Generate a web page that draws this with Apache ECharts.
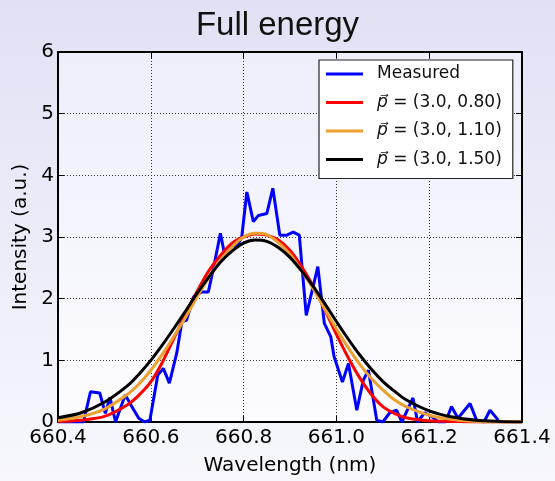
<!DOCTYPE html>
<html>
<head>
<meta charset="utf-8">
<script src="https://cdn.jsdelivr.net/npm/echarts@6/dist/echarts.min.js"></script>
<style>html,body{margin:0;padding:0;}#c{width:555px;height:481px;}</style>
</head>
<body>
<div id="c"></div>
<script>
// Fit curves sampled on a common wavelength grid (nm)
const fitX = [660.40,660.45,660.50,660.55,660.575,660.60,660.625,660.65,660.675,660.70,660.725,660.75,660.775,660.80,660.825,660.85,660.875,660.90,660.925,660.95,660.975,661.00,661.025,661.05,661.075,661.10,661.125,661.15,661.20,661.25,661.30,661.35,661.40];
const fitRed    = [0.01,0.03,0.09,0.28,0.44,0.65,0.97,1.36,1.75,2.12,2.45,2.70,2.90,3.00,3.05,3.03,2.95,2.78,2.52,2.20,1.82,1.42,1.05,0.72,0.45,0.25,0.14,0.07,0.02,0.01,0.00,0.00,0.00];
const fitOrange = [0.03,0.09,0.21,0.45,0.62,0.84,1.10,1.39,1.70,2.03,2.34,2.62,2.84,3.00,3.06,3.04,2.91,2.72,2.45,2.16,1.83,1.51,1.21,0.94,0.71,0.52,0.36,0.25,0.11,0.04,0.01,0.00,0.00];
const fitBlack  = [0.07,0.15,0.32,0.59,0.78,1.00,1.25,1.52,1.80,2.09,2.35,2.59,2.77,2.90,2.95,2.93,2.83,2.67,2.45,2.20,1.92,1.63,1.35,1.09,0.86,0.66,0.50,0.36,0.18,0.08,0.03,0.01,0.00];

// Measured spectrum
const measX = [660.40,660.455,660.470,660.490,660.502,660.512,660.524,660.545,660.559,660.574,660.587,660.598,660.615,660.627,660.640,660.656,660.667,660.677,660.692,660.710,660.724,660.735,660.750,660.760,660.774,660.785,660.796,660.807,660.821,660.832,660.850,660.863,660.878,660.893,660.907,660.920,660.935,660.960,660.974,660.988,660.995,661.013,661.026,661.044,661.058,661.069,661.087,661.100,661.115,661.130,661.141,661.165,661.175,661.190,661.205,661.220,661.235,661.248,661.262,661.288,661.302,661.318,661.331,661.349];
const measY = [0.00,0.00,0.49,0.47,0.14,0.40,0.00,0.44,0.25,0.06,0.00,0.03,0.76,0.87,0.63,1.12,1.63,1.65,2.03,2.11,2.11,2.49,3.06,2.68,2.87,2.84,3.00,3.73,3.25,3.35,3.38,3.79,3.03,3.03,3.08,3.03,1.73,2.52,1.60,1.38,1.06,0.65,0.95,0.19,0.68,0.84,0.03,0.00,0.15,0.19,0.00,0.39,0.00,0.15,0.09,0.00,0.00,0.25,0.06,0.30,0.03,0.00,0.19,0.03];

const xTicks = ['660.4','660.6','660.8','661.0','661.2','661.4'];
const legendNames = ['Measured','{i|p\u20D7} = (3.0, 0.80)','{i|p\u20D7} = (3.0, 1.10)','{i|p\u20D7} = (3.0, 1.50)'];
const names = ['Measured','p1','p2','p3'];

const zip = (xs, ys) => xs.map((x, i) => [x, ys[i]]);

const chart = echarts.init(document.getElementById('c'));
const font = 'DejaVu Sans';
const axisCommon = {
  type: 'value',
  axisLine: { show: true, onZero: false, lineStyle: { color: '#000', width: 2 } },
  axisTick: { show: true, inside: true, length: 6, lineStyle: { color: '#000', width: 1 } },
};
chart.setOption({
  backgroundColor: new echarts.graphic.LinearGradient(0, 0, 0, 1, [
    { offset: 0, color: '#e1e1f5' }, { offset: 1, color: '#f7f7fd' }
  ]),
  animation: false,
  title: {
    text: 'Full energy', left: 'center', top: 4,
    textStyle: { fontFamily: 'Liberation Sans', fontSize: 33, fontWeight: 'normal', color: '#111' }
  },
  grid: {
    left: 58, right: 33, top: 52, bottom: 59, show: true, borderWidth: 0,
    backgroundColor: new echarts.graphic.LinearGradient(0, 0, 0, 1, [
      { offset: 0, color: '#eeeefb' }, { offset: 1, color: '#fcfcff' }
    ])
  },
  legend: {
    orient: 'vertical', left: 319, top: 60,
    data: names.map(n => ({ name: n, icon: 'rect' })),
    itemWidth: 37, itemHeight: 3, itemGap: 10.5,
    padding: [5, 11, 10, 7],
    backgroundColor: '#ffffff', borderColor: '#222', borderWidth: 1.2,
    formatter: n => legendNames[names.indexOf(n)],
    textStyle: {
      fontFamily: font, fontSize: 17, color: '#111', lineHeight: 18, padding: [0, 0, 0, 9],
      rich: { i: { fontFamily: font, fontStyle: 'italic', fontSize: 17, color: '#111' } }
    }
  },
  xAxis: [
    Object.assign({}, axisCommon, {
      min: 660.4, max: 661.4, interval: 0.2, position: 'bottom',
      name: 'Wavelength (nm)', nameLocation: 'middle', nameGap: 34,
      nameTextStyle: { fontFamily: font, fontSize: 20, color: '#000' },
      axisLabel: { fontFamily: font, fontSize: 20, color: '#000', margin: 6,
        formatter: v => { const i = Math.round((v - 660.4) / 0.2); return xTicks[i] || ''; } },
      splitLine: { show: true, lineStyle: { color: '#333', width: 1, type: [1, 2] } }
    }),
    Object.assign({}, axisCommon, {
      min: 660.4, max: 661.4, interval: 0.2, position: 'top',
      axisLabel: { show: false }, splitLine: { show: false }
    })
  ],
  yAxis: [
    Object.assign({}, axisCommon, {
      min: 0, max: 6, interval: 1, position: 'left',
      name: 'Intensity (a.u.)', nameLocation: 'middle', nameGap: 27,
      nameTextStyle: { fontFamily: font, fontSize: 20, color: '#000' },
      axisLabel: { fontFamily: font, fontSize: 20, color: '#000', margin: 4 },
      splitLine: { show: true, lineStyle: { color: '#333', width: 1, type: [1, 2] } }
    }),
    Object.assign({}, axisCommon, {
      min: 0, max: 6, interval: 1, position: 'right',
      axisLabel: { show: false }, splitLine: { show: false }
    })
  ],
  series: [
    { name: names[0], type: 'line', data: zip(measX, measY), symbol: 'none',
      lineStyle: { color: '#0000ff', width: 3 }, itemStyle: { color: '#0000ff' } },
    { name: names[1], type: 'line', data: zip(fitX, fitRed), symbol: 'none', smooth: 0.3,
      lineStyle: { color: '#ff0000', width: 3 }, itemStyle: { color: '#ff0000' } },
    { name: names[2], type: 'line', data: zip(fitX, fitOrange), symbol: 'none', smooth: 0.3,
      lineStyle: { color: '#eba030', width: 3 }, itemStyle: { color: '#eba030' } },
    { name: names[3], type: 'line', data: zip(fitX, fitBlack), symbol: 'none', smooth: 0.3,
      lineStyle: { color: '#000000', width: 3 }, itemStyle: { color: '#000000' } }
  ]
});
</script>
</body>
</html>
